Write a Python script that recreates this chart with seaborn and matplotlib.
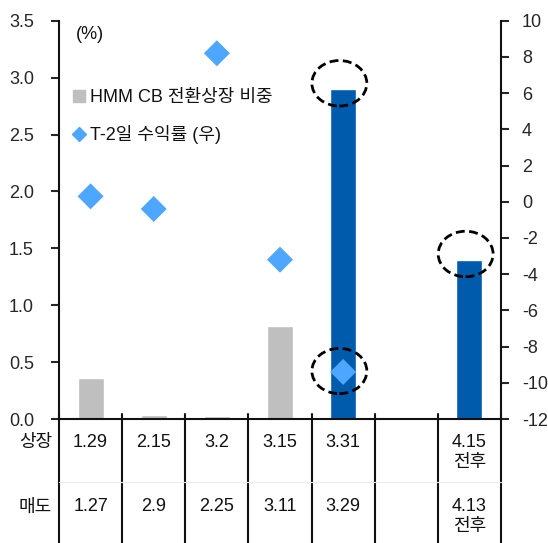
import numpy as np
import pandas as pd
import matplotlib
matplotlib.use("Agg")
import matplotlib.pyplot as plt
import matplotlib.transforms as mtransforms
from matplotlib.lines import Line2D
from matplotlib.patches import Ellipse
import seaborn as sns

# ---- data -------------------------------------------------------------
slots = ["s1", "s2", "s3", "s4", "s5", "s6", "s7"]
listing_dates = ["1.29", "2.15", "3.2", "3.15", "3.31", "", "4.15\n전후"]
selling_dates = ["1.27", "2.9", "2.25", "3.11", "3.29", "", "4.13\n전후"]
cb_share = [0.36, 0.035, 0.025, 0.815, 2.90, np.nan, 1.40]      # % (left axis)
t2_return = [0.3, -0.4, 8.2, -3.2, -9.4]                         # % (right axis)
bar_colors = ["#BFBFBF", "#BFBFBF", "#BFBFBF", "#BFBFBF", "#005BAC", "#005BAC", "#005BAC"]
left_ticks = [0.0, 0.5, 1.0, 1.5, 2.0, 2.5, 3.0, 3.5]
right_ticks = [-12, -10, -8, -6, -4, -2, 0, 2, 4, 6, 8, 10]
highlight_bars = [4, 6]
highlight_points = [4]

# ---- style ------------------------------------------------------------
sns.set_style("white")
plt.rcParams["font.family"] = ["Liberation Sans", "Noto Sans CJK KR"]
plt.rcParams["font.size"] = 13
plt.rcParams["text.color"] = "#111111"

fig = plt.figure(figsize=(5.48, 5.43), dpi=100)
ax = fig.add_axes([59 / 548, 124 / 543, 442 / 548, 398.3 / 543])

bars = pd.DataFrame({"slot": slots, "share": cb_share}).dropna()
sns.barplot(data=bars, x="slot", y="share", hue="slot", order=slots,
            palette=dict(zip(slots, bar_colors)), dodge=False, width=0.41,
            legend=False, ax=ax, saturation=1)

ax.set_xlim(-0.5, len(slots) - 0.5)
ax.set_ylim(0, 3.5)
ax.set_yticks(left_ticks)
ax.set_yticklabels([f"{v:.1f}" for v in left_ticks])
ax.set_xticks([])
ax.set_xlabel("")
ax.set_ylabel("")

ax2 = ax.twinx()
pos = list(range(len(t2_return)))
sns.scatterplot(x=pos, y=t2_return, marker="D", s=175, color="#4DA6FF",
                edgecolor="none", ax=ax2, zorder=5)
ax2.set_ylim(-12, 10)
ax2.set_yticks(right_ticks)
ax2.set_yticklabels([str(v) for v in right_ticks])
ax2.set_xlim(-0.5, len(slots) - 0.5)

for a in (ax, ax2):
    for s in a.spines.values():
        s.set_linewidth(1.5)
        s.set_color("#111111")
    a.spines["top"].set_visible(False)
ax.spines["right"].set_visible(False)
ax2.spines["left"].set_visible(False)
ax2.spines["bottom"].set_visible(False)
ax.tick_params(axis="y", direction="out", length=6, width=1.5, pad=12, labelsize=13)
ax2.tick_params(axis="y", direction="out", length=6, width=1.5, pad=9, labelsize=13)

# ---- dashed highlight circles -----------------------------------------
for i in highlight_bars:
    ax.add_patch(Ellipse((i - 0.06, cb_share[i] + 0.05), 0.87, 0.40, fill=False,
                         ls=(0, (3.2, 1.6)), lw=2.0, ec="black", zorder=6))
for i in highlight_points:
    ax2.add_patch(Ellipse((i - 0.06, t2_return[i] + 0.05), 0.87, 2.5, fill=False,
                          ls=(0, (3.2, 1.6)), lw=2.0, ec="black", zorder=6))

# ---- unit and legend --------------------------------------------------
ax2.text(0.038, 0.965, "(%)", transform=ax2.transAxes, ha="left", va="center")
handles = [
    Line2D([], [], marker="s", ls="none", color="#BFBFBF", markersize=8),
    Line2D([], [], marker="D", ls="none", color="#4DA6FF", markersize=7),
]
ax2.legend(handles, ["HMM CB 전환상장 비중", "T-2일 수익률 (우)"], frameon=False,
           loc="upper left", bbox_to_anchor=(0.0, 0.86), handlelength=0.8,
           handletextpad=0.2, labelspacing=1.05, borderaxespad=0.3, fontsize=13)

# ---- date table under the axis ----------------------------------------
blend = mtransforms.blended_transform_factory(ax.transData, ax.transAxes)
for b in np.arange(-0.5, len(slots), 1.0):
    ax.add_line(Line2D([b, b], [0.012, -0.32], transform=blend, color="#111111",
                       lw=1.5, clip_on=False))
ax.add_line(Line2D([-0.5, len(slots) - 0.5], [-0.158, -0.158], transform=blend,
                   color="#EBEBEB", lw=0.8, clip_on=False))
for i, (l, s) in enumerate(zip(listing_dates, selling_dates)):
    ax.text(i, -0.038, l, transform=blend, ha="center", va="top", linespacing=1.25)
    ax.text(i, -0.198, s, transform=blend, ha="center", va="top", linespacing=1.25)
ax.text(-0.016, -0.060, "상장", transform=ax.transAxes, ha="right", va="center")
ax.text(-0.016, -0.221, "매도", transform=ax.transAxes, ha="right", va="center")

fig.savefig("out.png", dpi=100)
